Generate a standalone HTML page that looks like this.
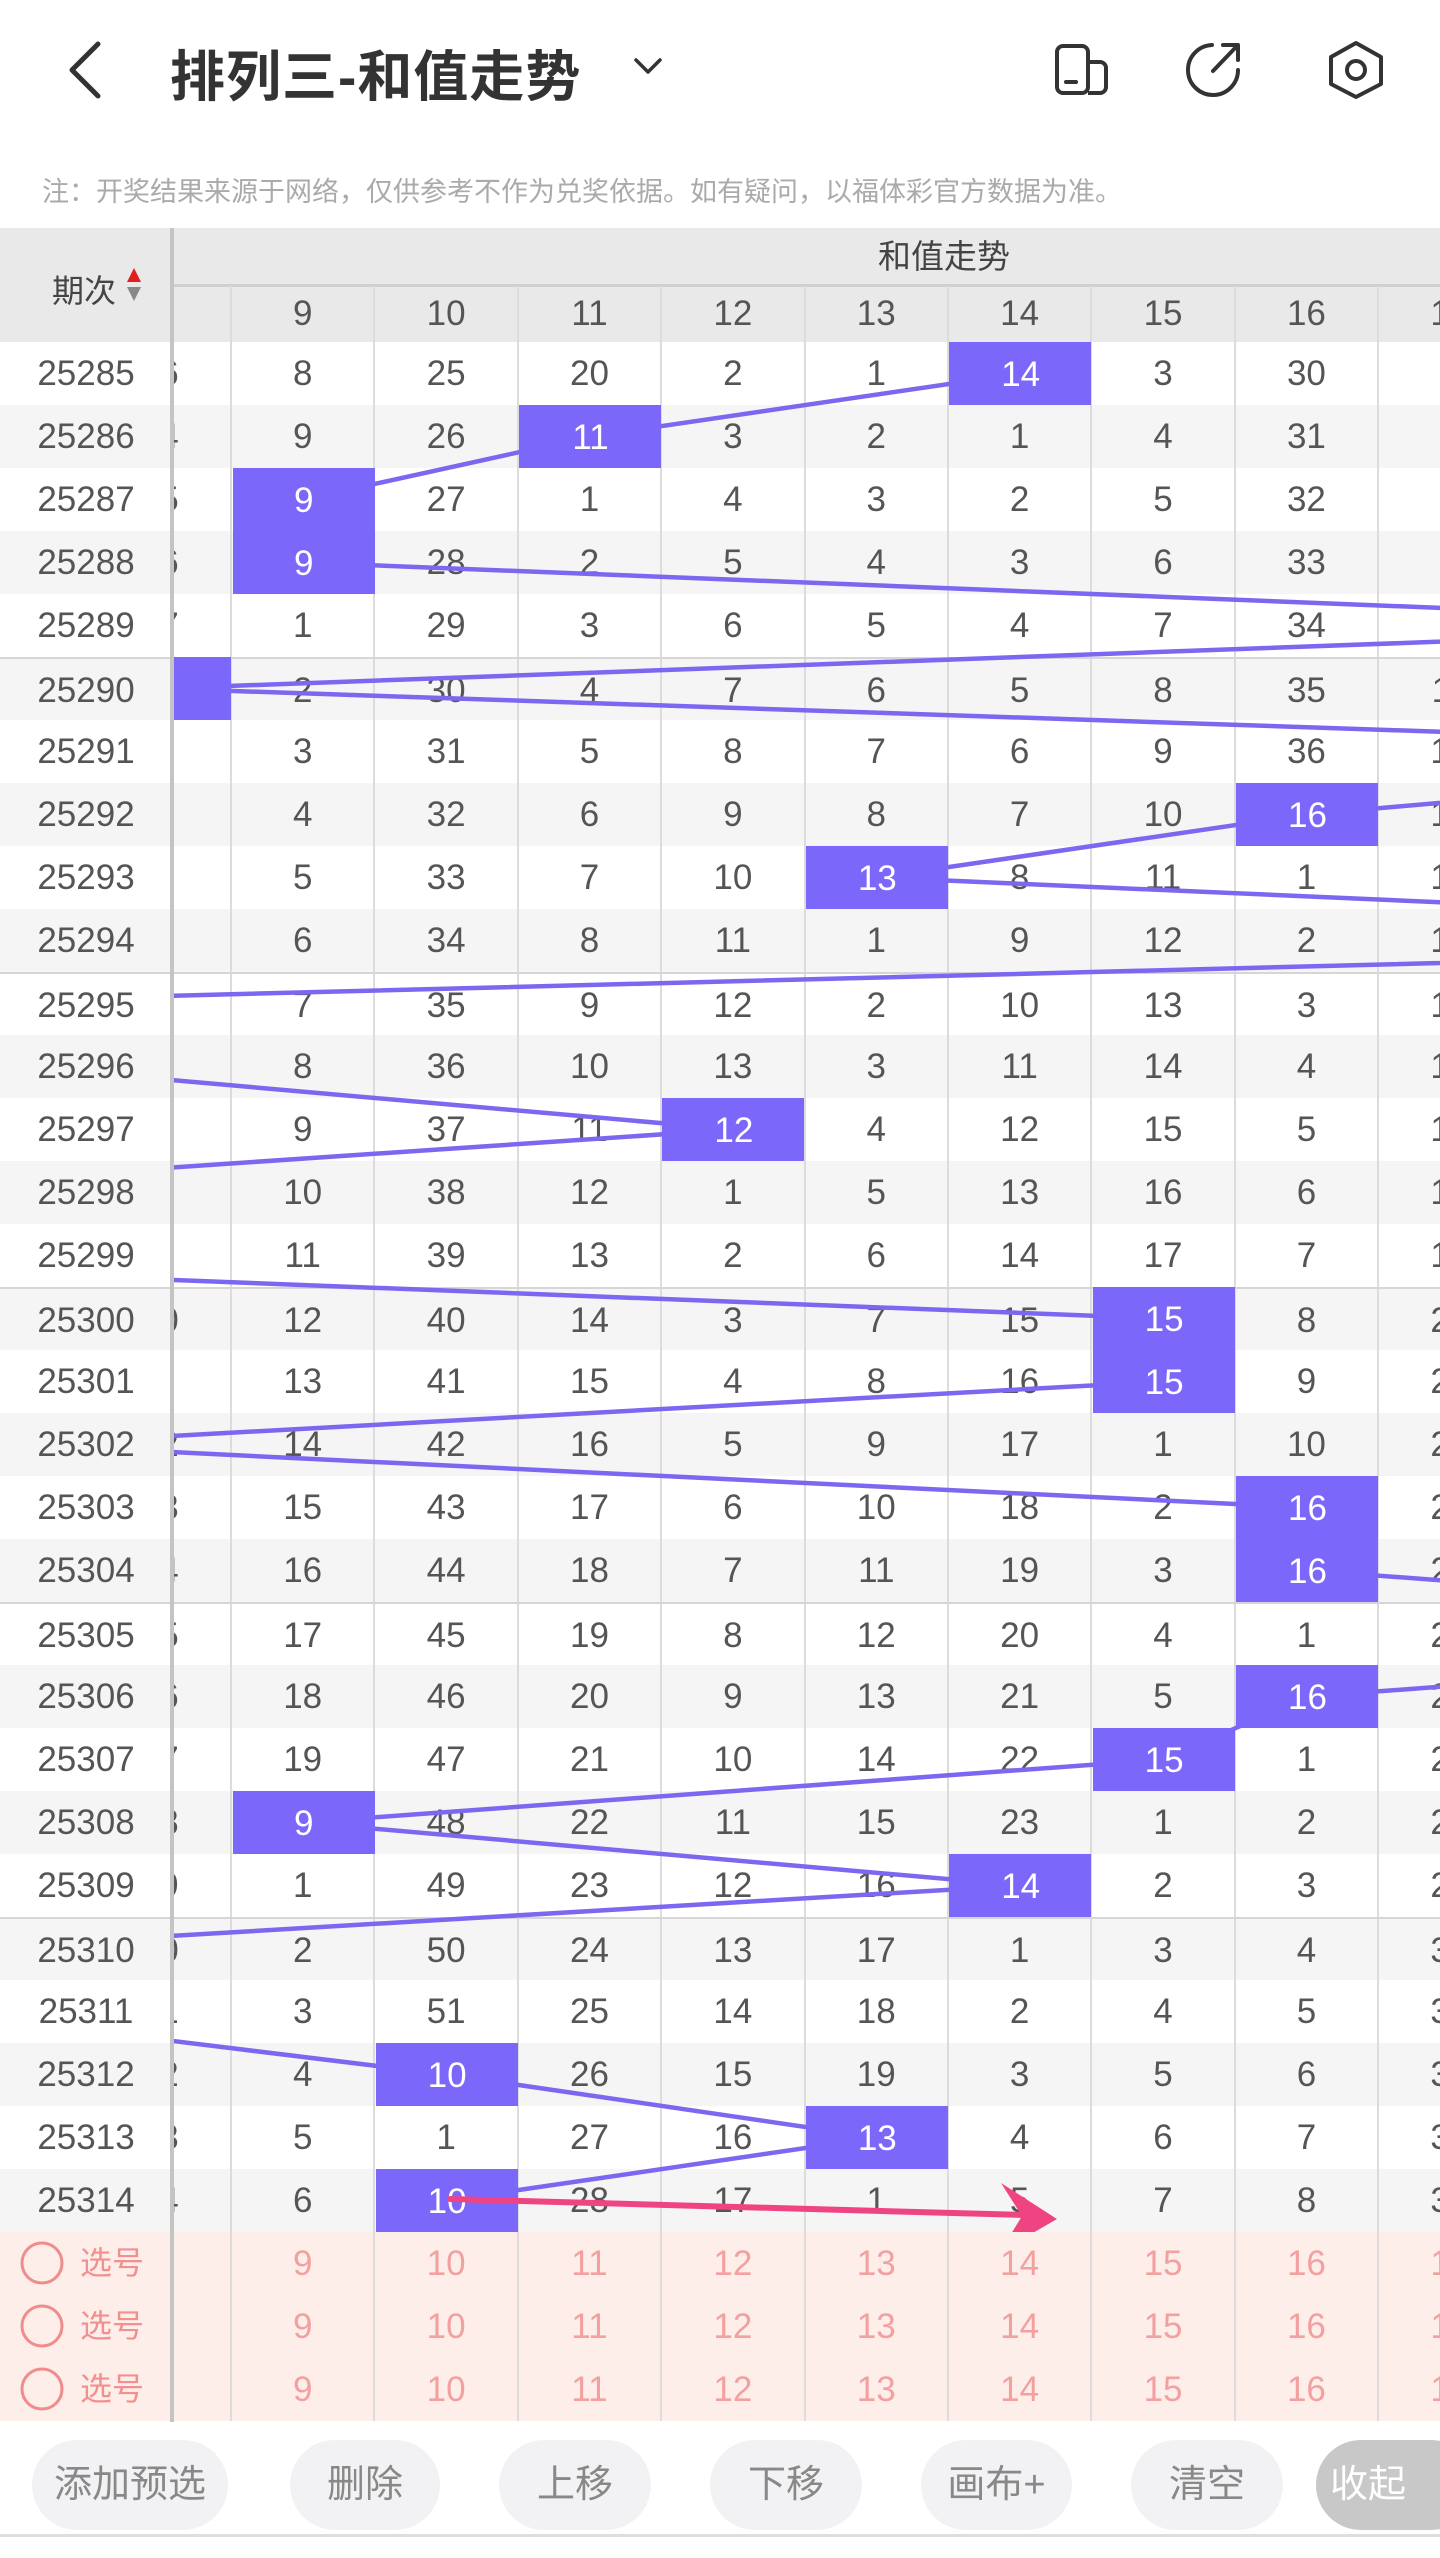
<!DOCTYPE html>
<html><head><meta charset="utf-8"><style>
*{margin:0;padding:0;box-sizing:border-box}
body{width:1440px;height:2558px;background:#fff;font-family:"Liberation Sans","Noto Sans CJK SC",sans-serif;position:relative;overflow:hidden;color:#555}
.abs{position:absolute}
#title{left:170px;top:32px;font-size:55px;font-weight:bold;color:#333;letter-spacing:1px}
#note{left:42px;top:170px;font-size:27px;color:#aaa;white-space:nowrap}
#hd{left:0;top:228px;width:1440px;height:114px;background:#e9e9e9}
#tbl{left:0;top:342px;width:1440px}
.row{height:63px;position:relative;background:#fff}
.row.o{background:#f5f5f5}
.row.s{background:#fdeee9}
.row.t{border-top:2px solid #d6d6d6}
.p{position:absolute;left:0;top:0;width:172px;height:63px;line-height:63px;text-align:center;font-size:35px;color:#555}
.g{position:absolute;left:172px;top:0;width:1268px;height:63px;overflow:hidden}
.in{display:flex;margin-left:-83.4px;height:63px}
.in i{font-style:normal;flex:none;width:143.4px;height:63px;line-height:63px;text-align:center;font-size:35px;border-right:2px solid #dcdcdc;color:#555}
.s .in i{color:#f2a0a0}
.s .p{text-align:left}
.btn{position:absolute;top:2440px;height:90px;border-radius:45px;background:#f2f2f4;color:#888;font-size:38px;line-height:90px;text-align:center}
</style></head><body>
<svg class="abs" style="left:0;top:0" width="1440" height="140">
<polyline points="98,44 72,70 98,96" fill="none" stroke="#333" stroke-width="5" stroke-linecap="round" stroke-linejoin="round"/>
<polyline points="636,60 648,72 660,60" fill="none" stroke="#333" stroke-width="3.5" stroke-linecap="round" stroke-linejoin="round"/>
<rect x="1057" y="46" width="31" height="47" rx="6" fill="none" stroke="#333" stroke-width="4"/>
<path d="M1088 62 H1100 a6 6 0 0 1 6 6 V87 a6 6 0 0 1 -6 6 H1088" fill="none" stroke="#333" stroke-width="4"/>
<line x1="1066" y1="82" x2="1076" y2="82" stroke="#333" stroke-width="4" stroke-linecap="round"/>
<path d="M1212 45 A25 25 0 1 0 1238 70" fill="none" stroke="#333" stroke-width="4" stroke-linecap="round"/>
<line x1="1213" y1="71" x2="1237" y2="46" stroke="#333" stroke-width="4" stroke-linecap="round"/>
<polyline points="1223,45 1238,45 1238,60" fill="none" stroke="#333" stroke-width="4" stroke-linecap="round" stroke-linejoin="round"/>
<polygon points="1356,43 1381,57 1381,84 1356,97 1331,84 1331,57" fill="none" stroke="#333" stroke-width="4" stroke-linejoin="round"/>
<circle cx="1356" cy="70" r="9" fill="none" stroke="#333" stroke-width="4"/>
</svg>
<div id="title" class="abs">排列三-和值走势</div>
<div id="note" class="abs">注：开奖结果来源于网络，仅供参考不作为兑奖依据。如有疑问，以福体彩官方数据为准。</div>
<div id="hd" class="abs">
<div class="abs" style="left:52px;top:38px;font-size:32px;color:#444">期次</div>
<svg class="abs" style="left:126px;top:40px" width="16" height="34"><polygon points="8,0 15,14 1,14" fill="#e02020"/><polygon points="1,19 15,19 8,33" fill="#888"/></svg>
<div class="abs" style="left:744px;top:0;width:400px;height:57px;line-height:57px;text-align:center;font-size:33px;color:#444">和值走势</div>
<div class="abs" style="left:172px;top:56px;width:1268px;height:3px;background:#cfcfcf"></div>
<div class="g" style="top:58px;height:56px"><div class="in" style="height:56px"><i style="height:56px;line-height:56px">8</i><i style="height:56px;line-height:56px">9</i><i style="height:56px;line-height:56px">10</i><i style="height:56px;line-height:56px">11</i><i style="height:56px;line-height:56px">12</i><i style="height:56px;line-height:56px">13</i><i style="height:56px;line-height:56px">14</i><i style="height:56px;line-height:56px">15</i><i style="height:56px;line-height:56px">16</i><i style="height:56px;line-height:56px">17</i></div></div>
</div>
<div id="tbl" class="abs">
<div class="row"><span class="p">25285</span><div class="g"><div class="in"><i>16</i><i>8</i><i>25</i><i>20</i><i>2</i><i>1</i><i>14</i><i>3</i><i>30</i><i></i></div></div></div>
<div class="row o"><span class="p">25286</span><div class="g"><div class="in"><i>14</i><i>9</i><i>26</i><i>11</i><i>3</i><i>2</i><i>1</i><i>4</i><i>31</i><i></i></div></div></div>
<div class="row"><span class="p">25287</span><div class="g"><div class="in"><i>15</i><i>9</i><i>27</i><i>1</i><i>4</i><i>3</i><i>2</i><i>5</i><i>32</i><i></i></div></div></div>
<div class="row o"><span class="p">25288</span><div class="g"><div class="in"><i>16</i><i>9</i><i>28</i><i>2</i><i>5</i><i>4</i><i>3</i><i>6</i><i>33</i><i></i></div></div></div>
<div class="row"><span class="p">25289</span><div class="g"><div class="in"><i>17</i><i>1</i><i>29</i><i>3</i><i>6</i><i>5</i><i>4</i><i>7</i><i>34</i><i></i></div></div></div>
<div class="row o t"><span class="p">25290</span><div class="g"><div class="in"><i>8</i><i>2</i><i>30</i><i>4</i><i>7</i><i>6</i><i>5</i><i>8</i><i>35</i><i>11</i></div></div></div>
<div class="row"><span class="p">25291</span><div class="g"><div class="in"><i>1</i><i>3</i><i>31</i><i>5</i><i>8</i><i>7</i><i>6</i><i>9</i><i>36</i><i>12</i></div></div></div>
<div class="row o"><span class="p">25292</span><div class="g"><div class="in"><i>2</i><i>4</i><i>32</i><i>6</i><i>9</i><i>8</i><i>7</i><i>10</i><i>16</i><i>13</i></div></div></div>
<div class="row"><span class="p">25293</span><div class="g"><div class="in"><i>3</i><i>5</i><i>33</i><i>7</i><i>10</i><i>13</i><i>8</i><i>11</i><i>1</i><i>14</i></div></div></div>
<div class="row o"><span class="p">25294</span><div class="g"><div class="in"><i>4</i><i>6</i><i>34</i><i>8</i><i>11</i><i>1</i><i>9</i><i>12</i><i>2</i><i>15</i></div></div></div>
<div class="row t"><span class="p">25295</span><div class="g"><div class="in"><i>5</i><i>7</i><i>35</i><i>9</i><i>12</i><i>2</i><i>10</i><i>13</i><i>3</i><i>16</i></div></div></div>
<div class="row o"><span class="p">25296</span><div class="g"><div class="in"><i>6</i><i>8</i><i>36</i><i>10</i><i>13</i><i>3</i><i>11</i><i>14</i><i>4</i><i>17</i></div></div></div>
<div class="row"><span class="p">25297</span><div class="g"><div class="in"><i>7</i><i>9</i><i>37</i><i>11</i><i>12</i><i>4</i><i>12</i><i>15</i><i>5</i><i>18</i></div></div></div>
<div class="row o"><span class="p">25298</span><div class="g"><div class="in"><i>8</i><i>10</i><i>38</i><i>12</i><i>1</i><i>5</i><i>13</i><i>16</i><i>6</i><i>19</i></div></div></div>
<div class="row"><span class="p">25299</span><div class="g"><div class="in"><i>9</i><i>11</i><i>39</i><i>13</i><i>2</i><i>6</i><i>14</i><i>17</i><i>7</i><i>18</i></div></div></div>
<div class="row o t"><span class="p">25300</span><div class="g"><div class="in"><i>10</i><i>12</i><i>40</i><i>14</i><i>3</i><i>7</i><i>15</i><i>15</i><i>8</i><i>21</i></div></div></div>
<div class="row"><span class="p">25301</span><div class="g"><div class="in"><i>1</i><i>13</i><i>41</i><i>15</i><i>4</i><i>8</i><i>16</i><i>15</i><i>9</i><i>22</i></div></div></div>
<div class="row o"><span class="p">25302</span><div class="g"><div class="in"><i>12</i><i>14</i><i>42</i><i>16</i><i>5</i><i>9</i><i>17</i><i>1</i><i>10</i><i>23</i></div></div></div>
<div class="row"><span class="p">25303</span><div class="g"><div class="in"><i>13</i><i>15</i><i>43</i><i>17</i><i>6</i><i>10</i><i>18</i><i>2</i><i>16</i><i>24</i></div></div></div>
<div class="row o"><span class="p">25304</span><div class="g"><div class="in"><i>14</i><i>16</i><i>44</i><i>18</i><i>7</i><i>11</i><i>19</i><i>3</i><i>16</i><i>25</i></div></div></div>
<div class="row t"><span class="p">25305</span><div class="g"><div class="in"><i>15</i><i>17</i><i>45</i><i>19</i><i>8</i><i>12</i><i>20</i><i>4</i><i>1</i><i>26</i></div></div></div>
<div class="row o"><span class="p">25306</span><div class="g"><div class="in"><i>16</i><i>18</i><i>46</i><i>20</i><i>9</i><i>13</i><i>21</i><i>5</i><i>16</i><i>27</i></div></div></div>
<div class="row"><span class="p">25307</span><div class="g"><div class="in"><i>17</i><i>19</i><i>47</i><i>21</i><i>10</i><i>14</i><i>22</i><i>15</i><i>1</i><i>28</i></div></div></div>
<div class="row o"><span class="p">25308</span><div class="g"><div class="in"><i>18</i><i>9</i><i>48</i><i>22</i><i>11</i><i>15</i><i>23</i><i>1</i><i>2</i><i>29</i></div></div></div>
<div class="row"><span class="p">25309</span><div class="g"><div class="in"><i>19</i><i>1</i><i>49</i><i>23</i><i>12</i><i>16</i><i>14</i><i>2</i><i>3</i><i>20</i></div></div></div>
<div class="row o t"><span class="p">25310</span><div class="g"><div class="in"><i>20</i><i>2</i><i>50</i><i>24</i><i>13</i><i>17</i><i>1</i><i>3</i><i>4</i><i>31</i></div></div></div>
<div class="row"><span class="p">25311</span><div class="g"><div class="in"><i>21</i><i>3</i><i>51</i><i>25</i><i>14</i><i>18</i><i>2</i><i>4</i><i>5</i><i>32</i></div></div></div>
<div class="row o"><span class="p">25312</span><div class="g"><div class="in"><i>22</i><i>4</i><i>10</i><i>26</i><i>15</i><i>19</i><i>3</i><i>5</i><i>6</i><i>33</i></div></div></div>
<div class="row"><span class="p">25313</span><div class="g"><div class="in"><i>23</i><i>5</i><i>1</i><i>27</i><i>16</i><i>13</i><i>4</i><i>6</i><i>7</i><i>34</i></div></div></div>
<div class="row o"><span class="p">25314</span><div class="g"><div class="in"><i>24</i><i>6</i><i>10</i><i>28</i><i>17</i><i>1</i><i>5</i><i>7</i><i>8</i><i>35</i></div></div></div>
<div class="row s"><span class="p" style="padding-left:80px;font-size:32px;color:#f29090">选号</span><div class="g"><div class="in"><i></i><i>9</i><i>10</i><i>11</i><i>12</i><i>13</i><i>14</i><i>15</i><i>16</i><i>17</i></div></div></div>
<div class="row s"><span class="p" style="padding-left:80px;font-size:32px;color:#f29090">选号</span><div class="g"><div class="in"><i></i><i>9</i><i>10</i><i>11</i><i>12</i><i>13</i><i>14</i><i>15</i><i>16</i><i>17</i></div></div></div>
<div class="row s"><span class="p" style="padding-left:80px;font-size:32px;color:#f29090">选号</span><div class="g"><div class="in"><i></i><i>9</i><i>10</i><i>11</i><i>12</i><i>13</i><i>14</i><i>15</i><i>16</i><i>17</i></div></div></div>
</div>
<div class="abs" style="left:170px;top:228px;width:4px;height:2194px;background:#c4c4c4"></div>
<svg class="abs" style="left:0;top:0" width="1440" height="2558">
<defs><clipPath id="cp"><rect x="174" y="342" width="1266" height="1890"/></clipPath></defs>
<g clip-path="url(#cp)">
<polyline fill="none" stroke="#7b68f0" stroke-width="4.5" stroke-linejoin="round" points="1020.7,373.5 590.5,436.5 303.7,499.5 303.7,562.5 1881.1,625.5 160.3,688.5 2024.5,751.5 1307.5,814.5 877.3,877.5 2311.3,940.5 -126.5,1003.5 16.9,1066.5 733.9,1129.5 -198.2,1192.5 -456.3,1255.5 1164.1,1318.5 1164.1,1381.5 16.9,1444.5 1307.5,1507.5 1307.5,1570.5 2167.9,1633.5 1307.5,1696.5 1164.1,1759.5 303.7,1822.5 1020.7,1885.5 -40.5,1948.5 -69.1,2011.5 447.1,2074.5 877.3,2137.5 447.1,2200.5"/>
<g fill="#7b68fa">
<rect x="949" y="342" width="142" height="63"/><rect x="519" y="405" width="142" height="63"/><rect x="233" y="468" width="142" height="126"/><rect x="89" y="657" width="142" height="63"/><rect x="1236" y="783" width="142" height="63"/><rect x="806" y="846" width="142" height="63"/><rect x="662" y="1098" width="142" height="63"/><rect x="1093" y="1287" width="142" height="126"/><rect x="1236" y="1476" width="142" height="126"/><rect x="1236" y="1665" width="142" height="63"/><rect x="1093" y="1728" width="142" height="63"/><rect x="233" y="1791" width="142" height="63"/><rect x="949" y="1854" width="142" height="63"/><rect x="376" y="2043" width="142" height="63"/><rect x="806" y="2106" width="142" height="63"/><rect x="376" y="2169" width="142" height="63"/>
</g>
<g fill="#fff" font-size="35" text-anchor="middle" font-family="Liberation Sans,sans-serif">
<text x="1020.7" y="386">14</text><text x="590.5" y="449">11</text><text x="303.7" y="512">9</text><text x="303.7" y="575">9</text><text x="1307.5" y="827">16</text><text x="877.3" y="890">13</text><text x="733.9" y="1142">12</text><text x="1164.1" y="1331">15</text><text x="1164.1" y="1394">15</text><text x="1307.5" y="1520">16</text><text x="1307.5" y="1583">16</text><text x="1307.5" y="1709">16</text><text x="1164.1" y="1772">15</text><text x="303.7" y="1835">9</text><text x="1020.7" y="1898">14</text><text x="447.1" y="2087">10</text><text x="877.3" y="2150">13</text><text x="447.1" y="2213">10</text>
</g>
<line x1="450" y1="2199" x2="1025" y2="2215" stroke="#f04482" stroke-width="6" stroke-linecap="round"/>
<polygon points="1057,2219 1001,2183 1022,2216 1000,2252" fill="#f04482"/>
</g>
<g fill="none" stroke="#f08c8c" stroke-width="3"><circle cx="42" cy="2263" r="20"/><circle cx="42" cy="2326" r="20"/><circle cx="42" cy="2389" r="20"/></g>
</svg>
<div class="btn" style="left:32px;width:196px">添加预选</div>
<div class="btn" style="left:290px;width:150px">删除</div>
<div class="btn" style="left:499px;width:152px">上移</div>
<div class="btn" style="left:710px;width:152px">下移</div>
<div class="btn" style="left:921px;width:151px">画布+</div>
<div class="btn" style="left:1131px;width:152px">清空</div>
<div class="btn" style="left:1316px;width:160px;background:#c8c8c8;color:#fff;text-align:left;padding-left:14px">收起</div>
<div class="abs" style="left:0;top:2534px;width:1440px;height:3px;background:#dedede"></div>
</body></html>
